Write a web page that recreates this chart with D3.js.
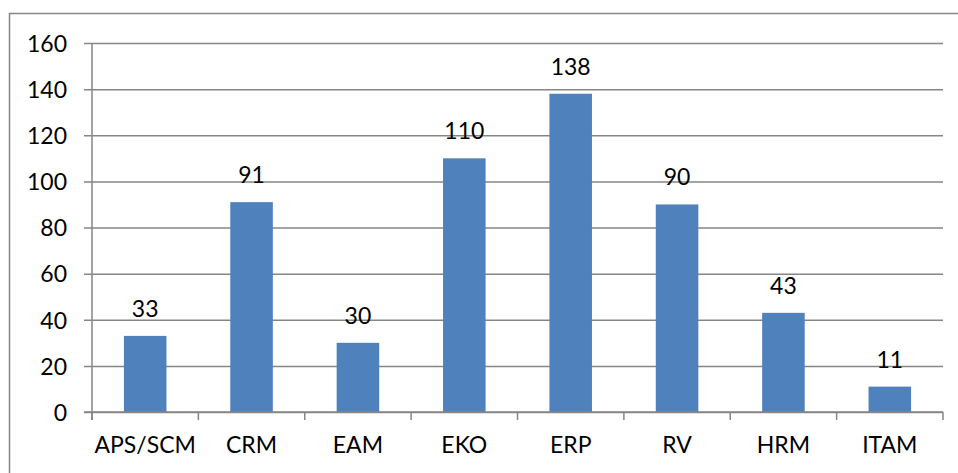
<!DOCTYPE html>
<html><head><meta charset="utf-8">
<script src="https://cdn.jsdelivr.net/npm/d3@7"></script>
<style>body{margin:0;background:#fff}svg{display:block}</style>
</head><body>
<svg id="c" width="958" height="473"></svg>
<script>
const categories = ["APS/SCM","CRM","EAM","EKO","ERP","RV","HRM","ITAM"];
const values = [33,91,30,110,138,90,43,11];
const yTicks = [0,20,40,60,80,100,120,140,160];

const svg = d3.select("#c");
const font = "Lato, 'Open Sans', sans-serif";
const fs = 23;
const L = 92, R = 943, T = 43, B = 412;
const x = d3.scaleBand().domain(categories).range([L,R]).paddingInner(0).paddingOuter(0);
const y = d3.scaleLinear().domain([0,160]).range([B,T]);
const grey = "#868686";

// outer border
svg.append("path").attr("d","M9.5,473V13.5H958").attr("fill","none").attr("stroke",grey).attr("stroke-width",1.5);

// gridlines + y axis
const ya = d3.axisLeft(y).tickValues(yTicks).tickSize(-(R-L)).tickPadding(25);
const yg = svg.append("g").attr("transform",`translate(${L},0)`).call(ya);
yg.select(".domain").remove();
yg.selectAll(".tick line").attr("stroke",grey).attr("stroke-width",1.5).attr("x1",-8);
yg.selectAll(".tick text").attr("font-family",font).attr("font-size",fs).attr("fill","#000").attr("dy","0.36em");

// y axis line
svg.append("line").attr("x1",L).attr("x2",L).attr("y1",T).attr("y2",B+8).attr("stroke",grey).attr("stroke-width",1.5);

// bars
const bw = x.bandwidth()/2.5;
svg.selectAll("rect.bar").data(values).join("rect").attr("class","bar")
  .attr("x",(d,i)=>x(categories[i])+x.bandwidth()/2-bw/2)
  .attr("width",bw)
  .attr("y",d=>y(d)).attr("height",d=>B-y(d))
  .attr("fill","#4F81BD");

// x axis
const xa = d3.axisBottom(x).tickSize(0).tickPadding(0);
const xg = svg.append("g").attr("transform",`translate(0,${B})`).call(xa);
xg.select(".domain").remove();
xg.selectAll(".tick text").attr("font-family",font).attr("font-size",fs).attr("fill","#000").attr("dy",null).attr("y",41);
svg.append("line").attr("x1",L-8).attr("x2",R).attr("y1",B).attr("y2",B).attr("stroke",grey).attr("stroke-width",1.5);
const bounds = categories.map(c=>x(c)).concat([R]);
svg.selectAll("line.ct").data(bounds).join("line").attr("class","ct")
  .attr("x1",d=>d).attr("x2",d=>d).attr("y1",B).attr("y2",B+8).attr("stroke",grey).attr("stroke-width",1.5);

// value labels
svg.selectAll("text.val").data(values).join("text").attr("class","val")
  .attr("x",(d,i)=>x(categories[i])+x.bandwidth()/2)
  .attr("y",d=>y(d)-19)
  .attr("text-anchor","middle").attr("font-family",font).attr("font-size",fs).attr("fill","#000")
  .text(d=>d);
</script>
</body></html>
